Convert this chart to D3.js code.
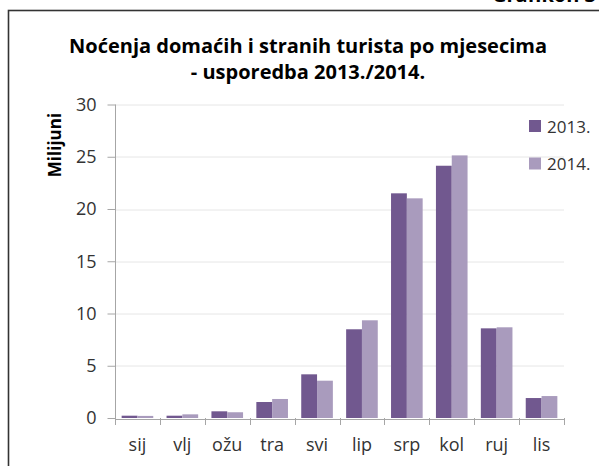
<!DOCTYPE html>
<html>
<head>
<meta charset="utf-8">
<script src="https://cdn.jsdelivr.net/npm/d3@7"></script>
<style>
  body { margin: 0; background: #fff; }
  svg { display: block; font-family: "Open Sans", sans-serif; }
</style>
</head>
<body>
<svg id="chart" width="599" height="466"></svg>
<script>
var months = ["sij", "vlj", "ožu", "tra", "svi", "lip", "srp", "kol", "ruj", "lis"];
var seriesNames = ["2013.", "2014."];
var values2013 = [0.22, 0.22, 0.64, 1.53, 4.18, 8.49, 21.5, 24.14, 8.58, 1.91];
var values2014 = [0.2, 0.35, 0.55, 1.82, 3.57, 9.35, 21.02, 25.13, 8.68, 2.1];
var yTicks = [0, 5, 10, 15, 20, 25, 30];

var svg = d3.select("#chart"),
  margin = { top: 104.5, right: 35, bottom: 48, left: 115 },
  width = +svg.attr("width") - margin.left - margin.right,
  height = +svg.attr("height") - margin.top - margin.bottom;

var colors = d3.scaleOrdinal().domain(seriesNames).range(["#71588f", "#a99bbd"]);

// frame of the surrounding document
svg.append("rect")
  .attr("x", 8.5).attr("y", 10.5)
  .attr("width", 620).attr("height", 500)
  .attr("fill", "none").attr("stroke", "#333").attr("stroke-width", 1.6);

svg.append("text")
  .attr("x", 596).attr("y", 2)
  .attr("text-anchor", "end")
  .attr("font-weight", "bold").attr("font-size", 20)
  .attr("fill", "#000")
  .text("Grafikon 3");

var title = svg.append("text")
  .attr("text-anchor", "middle")
  .attr("font-weight", "bold").attr("font-size", 20)
  .attr("fill", "#000");
title.append("tspan").attr("x", 308).attr("y", 53).text("Noćenja domaćih i stranih turista po mjesecima");
title.append("tspan").attr("x", 308).attr("y", 79).text("- usporedba 2013./2014.");

var g = svg.append("g").attr("transform", "translate(" + margin.left + "," + margin.top + ")");

var x0 = d3.scaleBand().domain(months).range([0, width]).padding(0);
var x1 = d3.scaleBand().domain(seriesNames).range([0, x0.bandwidth()]).paddingInner(0).paddingOuter(0.42);
var y = d3.scaleLinear().domain([0, 30]).range([height, 0]);

// gridlines
g.append("g")
  .selectAll("line")
  .data(yTicks.filter(function(d) { return d > 0; }))
  .enter().append("line")
  .attr("x1", 0).attr("x2", width)
  .attr("y1", function(d) { return Math.round(y(d)) + 0.5; })
  .attr("y2", function(d) { return Math.round(y(d)) + 0.5; })
  .attr("stroke", "#e6e6e6");

var data = months.map(function(m, i) {
  return { month: m, values: [values2013[i], values2014[i]] };
});

g.append("g").selectAll("g").data(data).enter().append("g")
  .attr("transform", function(d) { return "translate(" + x0(d.month) + ",0)"; })
  .selectAll("rect")
  .data(function(d) {
    return seriesNames.map(function(s, i) { return { key: s, value: d.values[i] }; });
  })
  .enter().append("rect")
  .attr("x", function(d) { return x1(d.key); })
  .attr("y", function(d) { return y(d.value); })
  .attr("width", x1.bandwidth())
  .attr("height", function(d) { return height - y(d.value); })
  .attr("fill", function(d) { return colors(d.key); });

// y axis
var yAxis = g.append("g")
  .attr("transform", "translate(0.5,0)")
  .call(d3.axisLeft(y).tickValues(yTicks).tickSize(8).tickPadding(11));
yAxis.select(".domain").attr("stroke", "#a6a6a6").attr("d", "M0," + y(30) + "V" + height);
yAxis.selectAll(".tick line").attr("stroke", "#a6a6a6");
yAxis.selectAll(".tick text").attr("fill", "#333").attr("font-size", 18).attr("font-family", "Open Sans, sans-serif");

// x axis
var xAxis = g.append("g")
  .attr("transform", "translate(0," + (Math.round(height) + 0.5) + ")")
  .call(d3.axisBottom(x0).tickSize(0).tickPadding(19));
xAxis.select(".domain").attr("stroke", "#a6a6a6");
xAxis.selectAll(".tick text").attr("fill", "#333").attr("font-size", 18).attr("font-family", "Open Sans, sans-serif");

g.append("g").selectAll("line")
  .data(months.map(function(m) { return x0(m); }).concat([width]))
  .enter().append("line")
  .attr("x1", function(d) { return Math.round(d) + 0.5; })
  .attr("x2", function(d) { return Math.round(d) + 0.5; })
  .attr("y1", height).attr("y2", height + 7)
  .attr("stroke", "#a6a6a6");

svg.append("text")
  .attr("transform", "translate(61,145) rotate(-90)")
  .attr("text-anchor", "middle")
  .attr("font-weight", "bold").attr("font-size", 17)
  .attr("fill", "#000")
  .text("Milijuni");

// legend
var legend = svg.append("g")
  .selectAll("g")
  .data(seriesNames)
  .enter().append("g")
  .attr("transform", function(d, i) { return "translate(529," + (120 + i * 37.5) + ")"; });

legend.append("rect")
  .attr("width", 12).attr("height", 12)
  .attr("fill", colors);

legend.append("text")
  .attr("x", 18).attr("y", 12.5)
  .attr("font-size", 17).attr("fill", "#333")
  .text(function(d) { return d; });
</script>
</body>
</html>
